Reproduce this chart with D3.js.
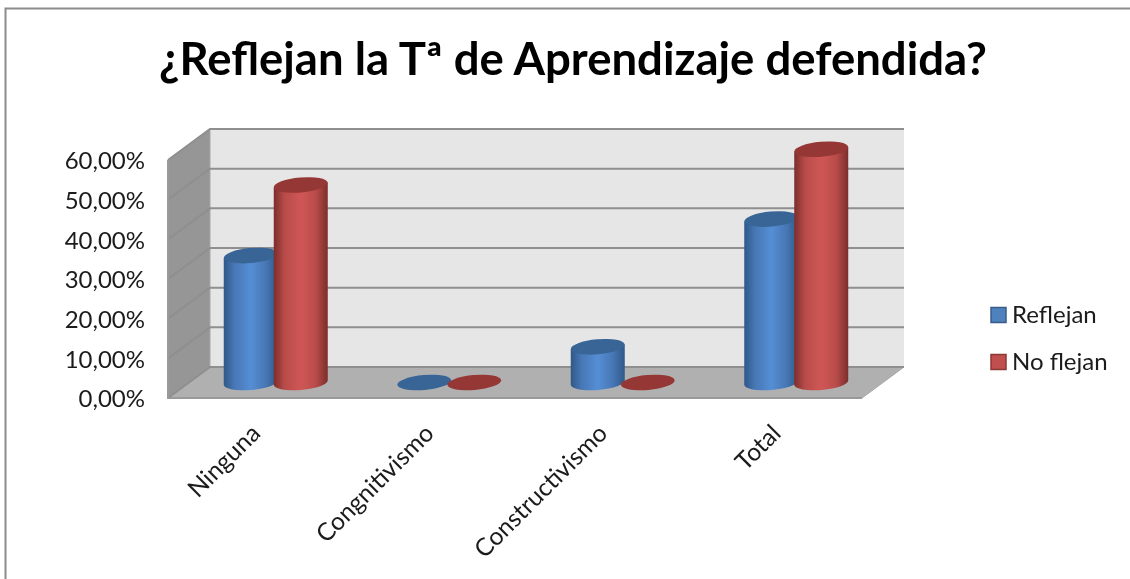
<!DOCTYPE html>
<html>
<head>
<meta charset="utf-8">
<script src="https://cdn.jsdelivr.net/npm/d3@7"></script>
<style>
html, body { margin: 0; padding: 0; background: #fff; overflow: hidden; }
text { font-family: Lato, "Open Sans", sans-serif; fill: #1a1a1a; }
</style>
</head>
<body>
<div class="graph"></div>
<script>
var categories = ['Ninguna', 'Congnitivismo', 'Constructivismo', 'Total'];
var seriesNames = ['Reflejan', 'No flejan'];
var reflejan = [32, 0, 9, 41.2];
var noFlejan = [49.8, 0, 0, 58.8];
var ticks = [0, 10, 20, 30, 40, 50, 60];
var seriesColors = [
    {light: '#558ed5', mid: '#4877b5', dark: '#2f5888', top: '#376596', border: '#385d8a'},
    {light: '#cf5755', mid: '#b84c4a', dark: '#7c2d2b', top: '#953735', border: '#8c3836'}
];

var width = 1130, height = 579;
var depth = {x: 42, y: -31};

var svg = d3.select('div.graph')
    .append('svg')
        .attr('width', width)
        .attr('height', height)
        .style('display', 'block');

// cylinder shading, dark at both edges
var defs = svg.append('defs');
seriesColors.forEach((c, i) => {
    var grad = defs.append('linearGradient').attr('id', 'cyl' + i);
    grad.append('stop').attr('offset', '0%').attr('stop-color', c.dark);
    grad.append('stop').attr('offset', '20%').attr('stop-color', c.mid);
    grad.append('stop').attr('offset', '50%').attr('stop-color', c.light);
    grad.append('stop').attr('offset', '78%').attr('stop-color', c.mid);
    grad.append('stop').attr('offset', '100%').attr('stop-color', c.dark);
});
defs.append('filter').attr('id', 'soft')
    .append('feGaussianBlur').attr('stdDeviation', 0.5);

var g = svg.append('g').attr('filter', 'url(#soft)');

// outer frame, only top and left show
g.append('path')
    .attr('d', 'M5.5,579V8.5H1130')
    .attr('fill', 'none')
    .attr('stroke', '#8c8c8c')
    .attr('stroke-width', 2);

g.append('text')
    .attr('x', 573)
    .attr('y', 75)
    .attr('text-anchor', 'middle')
    .style('font-size', '45.5px')
    .style('font-weight', 700)
    .style('fill', '#000')
    .text('¿Reflejan la Tª de Aprendizaje defendida?');

var x = d3.scaleBand().domain(categories).range([168, 862]);
var y = d3.scaleLinear().domain([0, 60]).range([398, 160]);

// back wall, side wall, floor
var x0 = x.range()[0], x1 = x.range()[1];
var yTop = y(60), yBase = y(0);
g.append('path')
    .attr('d', d3.line()([[x0 + depth.x, yTop + depth.y], [x1 + depth.x, yTop + depth.y], [x1 + depth.x, yBase + depth.y], [x0 + depth.x, yBase + depth.y]]))
    .attr('fill', '#e6e6e6');
g.append('path')
    .attr('d', d3.line()([[x0, yTop], [x0 + depth.x, yTop + depth.y], [x0 + depth.x, yBase + depth.y], [x0, yBase]]) + 'Z')
    .attr('fill', '#969696')
    .attr('stroke', '#a6a6a6');
g.append('path')
    .attr('d', d3.line()([[x0, yBase], [x0 + depth.x, yBase + depth.y], [x1 + depth.x, yBase + depth.y], [x1, yBase]]) + 'Z')
    .attr('fill', '#b0b0b0')
    .attr('stroke', '#a6a6a6');

// gridlines run along the side wall and the back wall
g.append('g').selectAll('path')
    .data(ticks)
    .enter()
    .append('path')
        .attr('d', (d) => d3.line()([[x0, y(d)], [x0 + depth.x, y(d) + depth.y], [x1 + depth.x, y(d) + depth.y]]))
        .attr('fill', 'none')
        .attr('stroke', '#8f8f8f')
        .attr('stroke-width', 2);
g.append('path')
    .attr('d', d3.line()([[x0, yTop], [x0, yBase], [x1, yBase]]))
    .attr('fill', 'none')
    .attr('stroke', '#9a9a9a')
    .attr('stroke-width', 2);

// y axis labels
var yAxis = d3.axisLeft(y)
    .tickValues(ticks)
    .tickSize(0)
    .tickPadding(23)
    .tickFormat((d) => d3.format('.2f')(d).replace('.', ',') + '%');
g.append('g')
    .attr('transform', 'translate(' + x0 + ',1)')
    .call(yAxis)
    .call((a) => a.select('.domain').remove())
    .selectAll('text')
        .style('font-size', '24px');

// x axis labels, rotated 45 degrees
g.append('g').selectAll('text')
    .data(categories)
    .enter()
    .append('text')
        .attr('text-anchor', 'end')
        .attr('transform', (d) => 'translate(' + (x(d) + x.bandwidth() / 2 + 7) + ',' + (yBase + 37) + ') rotate(-45)')
        .style('font-size', '24.5px')
        .text((d) => d);

// cylinders
var rx = 27, ry = 7.5, tilt = -5;
var cyl = [];
[reflejan, noFlejan].forEach((vals, s) => {
    vals.forEach((v, i) => cyl.push({cat: categories[i], value: v, s: s}));
});
var cx = (d) => x(d.cat) + x.bandwidth() / 2 + depth.x / 2 + (d.s === 0 ? -25 : 25);
var cy = (v) => y(v) + depth.y / 2;

var bars = g.append('g').selectAll('g')
    .data(cyl)
    .enter()
    .append('g');
bars.filter((d) => d.value > 0).append('path')
    .attr('d', (d) => {
        var lx = cx(d) - rx, rxx = cx(d) + rx;
        var dy = rx * Math.sin(tilt * Math.PI / 180);
        return 'M' + lx + ',' + (cy(d.value) - dy) +
            'L' + lx + ',' + (cy(0) - dy) +
            'A' + rx + ',' + ry + ' ' + tilt + ' 0 0 ' + rxx + ',' + (cy(0) + dy) +
            'L' + rxx + ',' + (cy(d.value) + dy) + 'Z';
    })
    .attr('fill', (d) => 'url(#cyl' + d.s + ')');
bars.append('ellipse')
    .attr('rx', rx)
    .attr('ry', ry)
    .attr('transform', (d) => 'translate(' + cx(d) + ',' + cy(d.value) + ') rotate(' + tilt + ')')
    .attr('fill', (d) => seriesColors[d.s].top);

// legend
var legendY = d3.scalePoint().domain(seriesNames).range([315, 362]);
var legend = g.append('g').selectAll('g')
    .data(seriesNames)
    .enter()
    .append('g')
        .attr('transform', (d) => 'translate(991,' + legendY(d) + ')');
legend.append('rect')
    .attr('x', 0)
    .attr('y', -7.5)
    .attr('width', 15)
    .attr('height', 15)
    .attr('fill', (d, i) => i === 0 ? '#4f81bd' : '#c0504d')
    .attr('stroke', (d, i) => seriesColors[i].border)
    .attr('stroke-width', 1.5);
legend.append('text')
    .attr('x', 21)
    .attr('y', 8)
    .style('font-size', '24px')
    .text((d) => d);
</script>
</body>
</html>
